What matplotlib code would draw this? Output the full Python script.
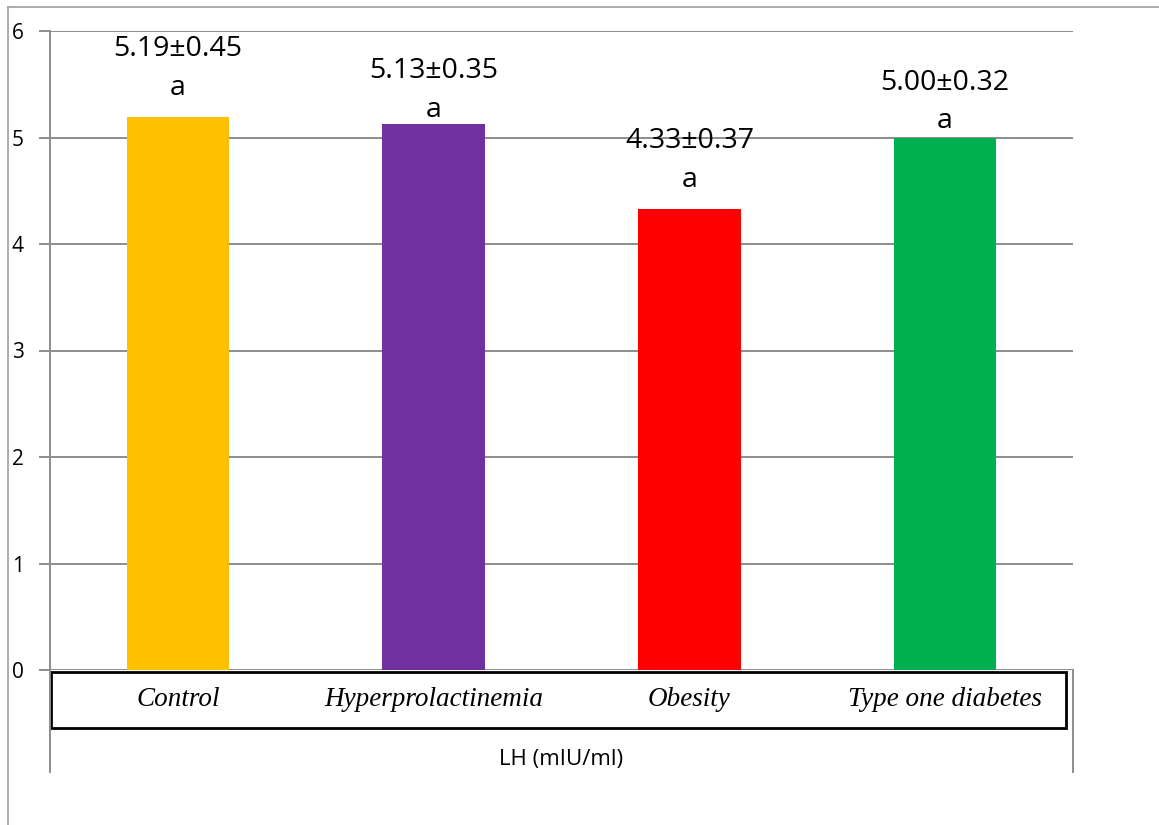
import matplotlib.pyplot as plt
from matplotlib.lines import Line2D
from matplotlib.patches import Rectangle

# LH levels per group (mean, SD and significance letter)
groups = ['Control', 'Hyperprolactinemia', 'Obesity', 'Type one diabetes']
means = [5.19, 5.13, 4.33, 5.00]
sds = [0.45, 0.35, 0.37, 0.32]
letters = ['a', 'a', 'a', 'a']
colors = ['#FFC000', '#7030A0', '#FF0000', '#00B050']
axis_title = 'LH (mIU/ml)'

plt.rcParams['font.family'] = ['Open Sans', 'DejaVu Sans']

W, H = 1159, 825
fig = plt.figure(figsize=(W / 100, H / 100), dpi=100)

def fx(px):
    return px / W

def fy(py):
    return 1 - py / H

grid_col = '#8c8c8c'

ax = fig.add_axes([fx(50), fy(670), fx(1073) - fx(50), fy(31) - fy(670)])
x = range(len(groups))
bars = ax.bar(x, means, width=0.4, color=colors, zorder=3)
ax.set_xlim(-0.5, len(groups) - 0.5)
ax.set_ylim(0, 6)
ax.set_yticks(range(0, 7))
ax.yaxis.grid(True, color=grid_col, linewidth=1.4, zorder=0)
ax.set_xticks([])
for s in ['top', 'right', 'bottom']:
    ax.spines[s].set_visible(False)
ax.spines['left'].set_color(grid_col)
ax.spines['left'].set_linewidth(1.4)
ax.tick_params(axis='y', length=8, width=1.4, color=grid_col, pad=11,
               labelsize=15)

# value labels above the bars (pixel offset of the letter from the bar top)
letter_offsets = [29, 14, 29, 16]
for b, m, sd, let, off in zip(bars, means, sds, letters, letter_offsets):
    xc = b.get_x() + b.get_width() / 2
    ax.annotate(let, xy=(xc, m), xytext=(0, off * 0.72),
                textcoords='offset points', ha='center', va='center',
                fontsize=20.5, zorder=4)
    ax.annotate(f'{m:.2f}±{sd:.2f}', xy=(xc, m), xytext=(0, (off + 39) * 0.72),
                textcoords='offset points', ha='center', va='center',
                fontsize=20.5, zorder=4)

# outer chart frame
fig.add_artist(Line2D([fx(8), 1], [fy(7), fy(7)], color='#a6a6a6', lw=1.3))
fig.add_artist(Line2D([fx(8), fx(8)], [fy(7), 0], color='#a6a6a6', lw=1.3))

# axis extensions below the plot area
fig.add_artist(Line2D([fx(50), fx(50)], [fy(670), fy(772)], color=grid_col, lw=1.4))
fig.add_artist(Line2D([fx(1073), fx(1073)], [fy(670), fy(772)], color=grid_col, lw=1.4))

# category label box
fig.add_artist(Rectangle((fx(51), fy(728)), fx(1066) - fx(51), fy(672) - fy(728),
                         transform=fig.transFigure, fill=False,
                         edgecolor='black', lw=2))
for i, g in enumerate(groups):
    xp = ax.transData.transform((i, 0))[0]
    fig.text(xp / W, fy(700), g, ha='center', va='center', fontsize=19.5,
             family='Liberation Serif', style='italic')

fig.text(fx(561), fy(760), axis_title, ha='center', va='center', fontsize=16)

fig.savefig('out.png', dpi=100)
